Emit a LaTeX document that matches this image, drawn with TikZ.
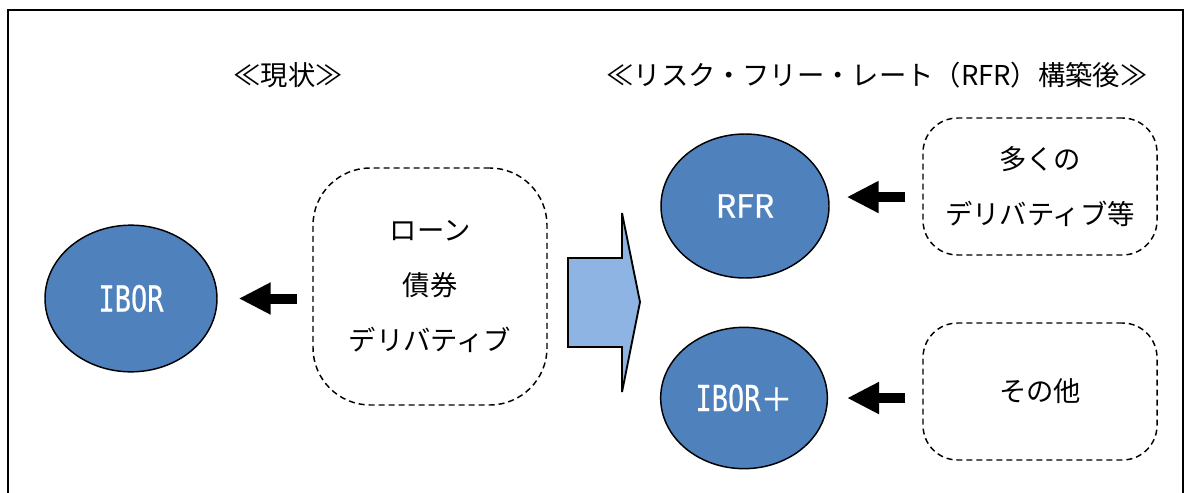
\documentclass[tikz,border=0pt]{standalone}
\usepackage{fontspec}
\setmainfont{Noto Sans CJK JP}
\newfontfamily\monof[FakeStretch=0.75,FakeBold=0.6]{DejaVu Sans Mono}
\newfontfamily\ellf[FakeBold=0.6]{Noto Sans CJK JP}
\usetikzlibrary{arrows.meta,shapes.geometric}
\definecolor{ellblue}{HTML}{4F81BD}
\definecolor{arrblue}{HTML}{8DB4E2}
\begin{document}
\begin{tikzpicture}[x=0.75pt,y=-0.75pt,
  ell/.style={ellipse, draw=black, line width=1.1pt, fill=ellblue, text=white, inner sep=0pt},
  dbox/.style={draw, dash pattern=on 4.5pt off 3pt, line width=1.1pt, align=center, inner sep=0pt,
    minimum width=175.5pt, font=\fontsize{20.5}{41.25}\selectfont},
  blk/.style={line width=7.5pt, -{Triangle[length=24pt,width=22.5pt]}},
  ttl/.style={font=\fontsize{20.5}{24}\selectfont, inner sep=0pt}]
\useasboundingbox (0,0) rectangle (1187,492);
% frame
\draw[line width=1.9pt] (8,495) -- (8,10) -- (1183,10) -- (1183,495);
% titles
\node[ttl] (t1) at (288,75) {≪現状≫};
\node[ttl] (t2) at (877,75) {≪リスク・フリー・レート（RFR）構築後≫};
% ellipses
\node[ell, minimum width=129pt, minimum height=110pt] (ibor) at (131,298.5) {\fontsize{27}{30}\monof IBOR};
\node[ell, minimum width=126pt, minimum height=108pt] (rfr) at (745,206) {\fontsize{24}{26}\ellf RFR};
\node[ell, minimum width=125pt, minimum height=106pt] (iborp) at (744,398) {\fontsize{27}{30}\monof IBOR\fontsize{24}{26}\ellf ＋};
% dashed boxes
\node[dbox, minimum height=177.75pt, rounded corners=43pt] (b1) at (430,286.5) {ローン\\債券\\デリバティブ};
\node[dbox, minimum height=102.75pt, rounded corners=26pt] (b2) at (1040,186.5) {多くの\\デリバティブ等};
\node[dbox, minimum height=102.75pt, rounded corners=26pt] (b3) at (1040,391.5) {その他};
% small arrows
\draw[blk, shorten <=11.25pt, shorten >=15.75pt] (b1.west |- ibor.east) -- (ibor.east);
\draw[blk, shorten <=12.75pt, shorten >=12.75pt] ([yshift=-7.9pt]b2.west) -- ([yshift=-7.9pt]b2.west -| rfr.east);
\draw[blk, shorten <=12.75pt, shorten >=14.25pt] ([yshift=-4.9pt]b3.west) -- ([yshift=-4.9pt]b3.west -| iborp.east);
% block arrow
\draw[line width=1.4pt, fill=arrblue, line join=miter]
  (568,258) -- (622,258) -- (622,213) -- (640,302) -- (622,392) -- (622,347) -- (568,347) -- cycle;
\end{tikzpicture}
\end{document}
